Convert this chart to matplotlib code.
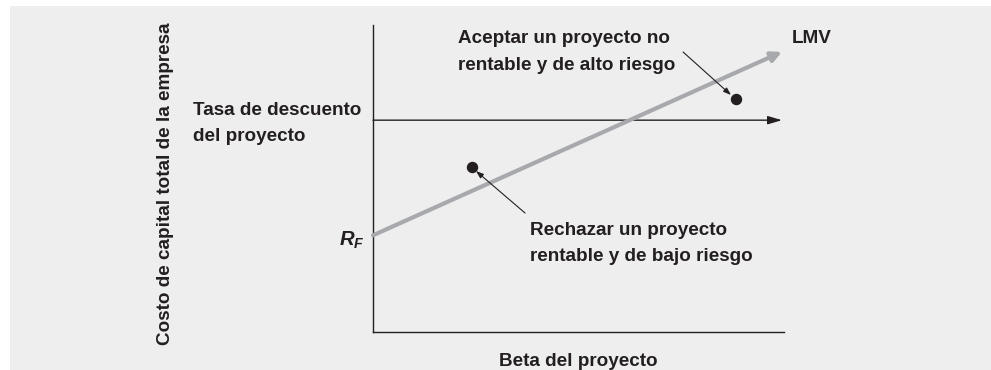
import matplotlib
matplotlib.use("Agg")
import matplotlib.pyplot as plt
from matplotlib.patches import Rectangle

# data (beta, required return %)
sml_beta = [0.0, 1.99]
sml_return = [6.3, 18.25]
discount_rate = 13.8
hurdle_beta = [0.0, 1.99]
proj_beta = [1.766, 0.482]
proj_return = [15.2, 10.75]
proj_labels = ["Aceptar un proyecto no\nrentable y de alto riesgo",
               "Rechazar un proyecto\nrentable y de bajo riesgo"]
label_pos = [(0.414, 18.24), (0.764, 5.77)]
arrow_from = [(1.509, 18.24), (0.740, 7.75)]
arrow_to = [(1.742, 15.44), (0.501, 10.49)]

ink = "#231f20"
plt.rcParams['font.family'] = ['Liberation Sans', 'DejaVu Sans']
plt.rcParams['font.weight'] = 'bold'
plt.rcParams['mathtext.fontset'] = 'custom'
plt.rcParams['mathtext.it'] = 'Liberation Sans:bold:italic'

fs = 13.6
fig = plt.figure(figsize=(9.91, 3.70), dpi=100, facecolor="white")
fig.patches.append(Rectangle((10 / 991, 0), 1, 364 / 370, transform=fig.transFigure,
                             facecolor="#eeeeee", edgecolor="none", zorder=-10))

ax = fig.add_axes([373 / 991, 38 / 370, 411 / 991, 307 / 370])
ax.set_facecolor("none")
ax.set_xlim(0, 2)
ax.set_ylim(0, 20)
for s in ["top", "right"]:
    ax.spines[s].set_visible(False)
for s in ["left", "bottom"]:
    ax.spines[s].set_color(ink)
    ax.spines[s].set_linewidth(1.0)
ax.set_xticks([])
ax.set_yticks([])

# discount-rate line
ax.annotate("", xy=(hurdle_beta[1], discount_rate), xytext=(hurdle_beta[0], discount_rate),
            arrowprops=dict(arrowstyle="-|>,head_length=0.85,head_width=0.25", color=ink,
                            lw=1.0, shrinkA=0, shrinkB=0))

# SML
ax.annotate("", xy=(sml_beta[1], sml_return[1]), xytext=(sml_beta[0], sml_return[0]),
            arrowprops=dict(arrowstyle="-|>,head_length=0.6,head_width=0.3", color="#a7a9ac",
                            lw=3, shrinkA=0, shrinkB=0))
ax.text(2.039, 19.09, "LMV", fontsize=fs, color=ink, ha="left", va="center")

# projects
ax.scatter(proj_beta, proj_return, s=52, color=ink, zorder=5, clip_on=False)
for start, end in zip(arrow_from, arrow_to):
    ax.annotate("", xy=end, xytext=start,
                arrowprops=dict(arrowstyle="-|>,head_length=0.45,head_width=0.16", color=ink,
                                lw=0.8, shrinkA=0, shrinkB=0))
for lab, (lx, ly) in zip(proj_labels, label_pos):
    ax.text(lx, ly, lab, fontsize=fs, color=ink, ha="left", va="center", linespacing=1.72)

ax.text(-0.04, sml_return[0] - 0.35, r"$R_F$", fontsize=fs + 1, color=ink,
        ha="right", va="center")
ax.text(-0.876, 13.58, "Tasa de descuento\ndel proyecto", fontsize=fs,
        color=ink, ha="left", va="center", linespacing=1.72)

ax.set_xlabel("Beta del proyecto", fontsize=fs, fontweight="bold", color=ink, labelpad=15)
fig.text(165 / 991, 186 / 370, "Costo de capital total de la empresa", fontsize=fs,
         fontweight="bold", color=ink, rotation=90, ha="center", va="center")

fig.savefig("out.png", dpi=100, facecolor="white")
